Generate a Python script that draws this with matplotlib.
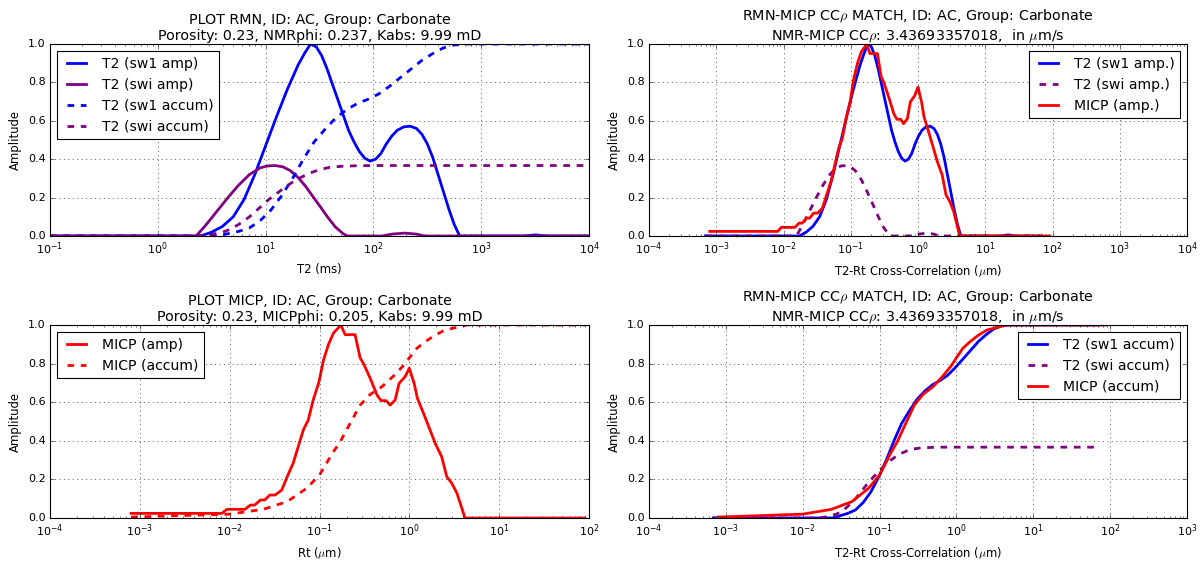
import numpy as np
import matplotlib
matplotlib.use("Agg")
import matplotlib.pyplot as plt

plt.style.use("classic")

# ---------------- data ----------------
rho = 3.43693357018  # um/s

# NMR T2 sw1 amplitude
t2_sw1_amp_x = [0.1, 1.0, 2.5, 3.16, 3.98, 5.01, 6.31, 7.94, 10.0, 12.6, 15.8, 20.0, 22.9,
                26.1, 29.5, 33.1, 37.2, 41.7, 46.8, 52.5, 58.9, 66.1, 74.1, 83.2, 93.3,
                104.7, 117.5, 131.8, 147.9, 166.0, 190.5, 218.8, 251.2, 281.8, 316.2,
                354.8, 398.1, 446.7, 501.2, 562.3, 631.0, 2500.0, 3200.0, 4000.0, 10000.0]
t2_sw1_amp_y = [0.0, 0.0, 0.0, 0.02, 0.05, 0.10, 0.19, 0.32, 0.47, 0.62, 0.76, 0.89, 0.95,
                1.0, 0.985, 0.94, 0.87, 0.79, 0.71, 0.63, 0.55, 0.49, 0.44, 0.405, 0.39,
                0.40, 0.43, 0.48, 0.52, 0.55, 0.568, 0.572, 0.56, 0.53, 0.48,
                0.41, 0.32, 0.23, 0.14, 0.06, 0.0, 0.0, 0.006, 0.0, 0.0]

# NMR T2 swi amplitude
t2_swi_amp_x = [0.1, 1.0, 2.27, 2.82, 3.55, 4.47, 5.62, 7.08, 8.91, 10.5, 12.3, 14.5, 17.0,
                20.0, 23.4, 27.5, 32.4, 38.0, 44.7, 52.5, 57.5,
                120.0, 150.0, 195.0, 250.0, 300.0, 10000.0]
t2_swi_amp_y = [0.0, 0.0, 0.0, 0.06, 0.13, 0.20, 0.265, 0.32, 0.355, 0.365, 0.367, 0.36, 0.34,
                0.305, 0.26, 0.205, 0.15, 0.095, 0.045, 0.012, 0.0,
                0.0, 0.01, 0.015, 0.01, 0.0, 0.0]

# NMR T2 sw1 cumulative
t2_sw1_acc_x = [0.1, 1.0, 3.55, 4.47, 5.62, 7.08, 8.91, 11.2, 14.1, 17.8, 22.4, 28.2, 35.5,
                44.7, 56.2, 70.8, 89.1, 112.2, 141.3, 177.8, 223.9, 281.8, 354.8, 446.7,
                562.3, 707.9, 1000.0, 10000.0]
t2_sw1_acc_y = [0.0, 0.0, 0.0, 0.012, 0.024, 0.042, 0.08, 0.135, 0.21, 0.30, 0.40, 0.49, 0.555,
                0.615, 0.657, 0.69, 0.712, 0.74, 0.78, 0.825, 0.87, 0.915, 0.95, 0.98,
                0.995, 1.0, 1.0, 1.0]

# NMR T2 swi cumulative
t2_swi_acc_x = [0.1, 1.0, 2.43, 3.16, 3.98, 4.68, 5.62, 7.08, 8.91, 10.7, 12.6, 14.8, 17.4,
                20.4, 24.0, 28.2, 33.1, 38.9, 50.1, 70.8, 100.0, 10000.0]
t2_swi_acc_y = [0.0, 0.0, 0.0, 0.008, 0.02, 0.034, 0.06, 0.10, 0.15, 0.19, 0.22, 0.25, 0.277,
                0.30, 0.32, 0.336, 0.348, 0.357, 0.363, 0.366, 0.367, 0.367]

# MICP amplitude vs pore throat radius (um)
micp_rt = [8.0e-4, 8.2e-3, 9.3e-3, 1.48e-2, 1.70e-2, 1.90e-2, 2.19e-2, 2.45e-2, 2.80e-2,
           3.20e-2, 3.80e-2, 4.37e-2, 5.10e-2, 5.80e-2, 6.60e-2, 7.50e-2, 8.50e-2, 9.80e-2,
           1.11e-1, 1.26e-1, 1.43e-1, 1.73e-1, 1.93e-1, 2.49e-1, 2.83e-1, 3.09e-1, 3.66e-1,
           4.37e-1, 4.85e-1, 5.52e-1, 6.10e-1, 6.95e-1, 7.69e-1, 8.97e-1, 1.0, 1.13, 1.23,
           1.44, 1.70, 1.94, 2.29, 2.61, 2.97, 3.39, 4.17, 90.0]
micp_amp = [0.024, 0.024, 0.045, 0.045, 0.067, 0.067, 0.093, 0.093, 0.119,
            0.119, 0.145, 0.214, 0.285, 0.37, 0.456, 0.508, 0.611, 0.70,
            0.82, 0.90, 0.958, 1.0, 0.95, 0.95, 0.83, 0.80, 0.725,
            0.637, 0.608, 0.608, 0.585, 0.611, 0.698, 0.732, 0.776, 0.698, 0.62,
            0.542, 0.456, 0.387, 0.318, 0.214, 0.18, 0.128, 0.0, 0.0]

# MICP cumulative
micp_acc_rt = [8.0e-4, 1.0e-3, 1.0e-2, 2.37e-2, 4.37e-2, 7.2e-2, 0.1, 0.143, 0.17, 0.219,
               0.283, 0.366, 0.494, 0.665, 0.86, 1.0, 1.21, 1.50, 1.94, 2.5, 3.39, 4.37, 90.0]
micp_acc = [0.005, 0.006, 0.02, 0.045, 0.085, 0.154, 0.223, 0.344, 0.395, 0.49,
            0.585, 0.64, 0.68, 0.735, 0.79, 0.83, 0.879, 0.913, 0.948, 0.974, 0.988, 1.0, 1.0]


def t2_to_rt(t2_ms):
    return 2.0 * rho * np.asarray(t2_ms) / 1000.0


LW = 2.5
TITLE_FS = 12.8
LEGEND_FS = 12.6
LABEL_FS = 10.5
TICK_FS = 10
TITLE_PAD = 3.5

plt.rcParams["xtick.labelsize"] = TICK_FS
plt.rcParams["ytick.labelsize"] = TICK_FS

fig = plt.figure(figsize=(1202 / 80, 561 / 80), dpi=80, facecolor="white")

W = 1202.0
H = 561.0
def pos(x0, x1, y0, y1):
    return [x0 / W, 1 - y1 / H, (x1 - x0) / W, (y1 - y0) / H]

ax1 = fig.add_axes(pos(50, 589, 44, 236))
ax2 = fig.add_axes(pos(649, 1187, 44, 236))
ax3 = fig.add_axes(pos(50, 589, 325, 518))
ax4 = fig.add_axes(pos(649, 1187, 325, 518))

# Top-left: NMR
ax1.semilogx(t2_sw1_amp_x, t2_sw1_amp_y, color="blue", lw=LW, label="T2 (sw1 amp)")
ax1.semilogx(t2_swi_amp_x, t2_swi_amp_y, color="purple", lw=LW, label="T2 (swi amp)")
ax1.semilogx(t2_sw1_acc_x, t2_sw1_acc_y, "--", color="blue", lw=LW, label="T2 (sw1 accum)")
ax1.semilogx(t2_swi_acc_x, t2_swi_acc_y, "--", color="purple", lw=LW, label="T2 (swi accum)")
ax1.set_xlim(1e-1, 1e4)
ax1.set_ylim(0, 1)
ax1.set_xlabel("T2 (ms)", fontsize=LABEL_FS)
ax1.set_ylabel("Amplitude", fontsize=LABEL_FS)
ax1.set_title("PLOT RMN, ID: AC, Group: Carbonate\nPorosity: 0.23, NMRphi: 0.237, Kabs: 9.99 mD",
              fontsize=TITLE_FS, pad=TITLE_PAD)
ax1.legend(loc="upper left", fontsize=LEGEND_FS)

# Top-right: match amplitudes
ax2.semilogx(t2_to_rt(t2_sw1_amp_x), t2_sw1_amp_y, color="blue", lw=LW, label="T2 (sw1 amp.)")
ax2.semilogx(t2_to_rt(t2_swi_amp_x), t2_swi_amp_y, "--", color="purple", lw=LW, label="T2 (swi amp.)")
ax2.semilogx(micp_rt, micp_amp, color="red", lw=LW, label="MICP (amp.)")
ax2.set_xlim(1e-4, 1e4)
ax2.set_ylim(0, 1)
ax2.set_xlabel(r"T2-Rt Cross-Correlation ($\mu$m)", fontsize=LABEL_FS)
ax2.set_ylabel("Amplitude", fontsize=LABEL_FS)
ax2.set_title("RMN-MICP CC$\\rho$ MATCH, ID: AC, Group: Carbonate\n"
              "NMR-MICP CC$\\rho$: 3.43693357018,  in $\\mu$m/s", fontsize=TITLE_FS, pad=TITLE_PAD)
ax2.legend(loc="upper right", fontsize=LEGEND_FS)

# Bottom-left: MICP
ax3.semilogx(micp_rt, micp_amp, color="red", lw=LW, label="MICP (amp)")
ax3.semilogx(micp_acc_rt, micp_acc, "--", color="red", lw=LW, label="MICP (accum)")
ax3.set_xlim(1e-4, 1e2)
ax3.set_ylim(0, 1)
ax3.set_xlabel(r"Rt ($\mu$m)", fontsize=LABEL_FS)
ax3.set_ylabel("Amplitude", fontsize=LABEL_FS)
ax3.set_title("PLOT MICP, ID: AC, Group: Carbonate\nPorosity: 0.23, MICPphi: 0.205, Kabs: 9.99 mD",
              fontsize=TITLE_FS, pad=TITLE_PAD)
ax3.legend(loc="upper left", fontsize=LEGEND_FS)

# Bottom-right: match cumulative
ax4.semilogx(t2_to_rt(t2_sw1_acc_x), t2_sw1_acc_y, color="blue", lw=LW, label="T2 (sw1 accum)")
ax4.semilogx(t2_to_rt(t2_swi_acc_x), t2_swi_acc_y, "--", color="purple", lw=LW, label="T2 (swi accum)")
ax4.semilogx(micp_acc_rt, micp_acc, color="red", lw=LW, label="MICP (accum)")
ax4.set_xlim(1e-4, 1e3)
ax4.set_ylim(0, 1)
ax4.set_xlabel(r"T2-Rt Cross-Correlation ($\mu$m)", fontsize=LABEL_FS)
ax4.set_ylabel("Amplitude", fontsize=LABEL_FS)
ax4.set_title("RMN-MICP CC$\\rho$ MATCH, ID: AC, Group: Carbonate\n"
              "NMR-MICP CC$\\rho$: 3.43693357018,  in $\\mu$m/s", fontsize=TITLE_FS, pad=TITLE_PAD)
ax4.legend(loc="upper right", fontsize=LEGEND_FS)

for ax in (ax1, ax2, ax3, ax4):
    ax.grid(True)

fig.savefig("out.png", dpi=80, facecolor="white")
